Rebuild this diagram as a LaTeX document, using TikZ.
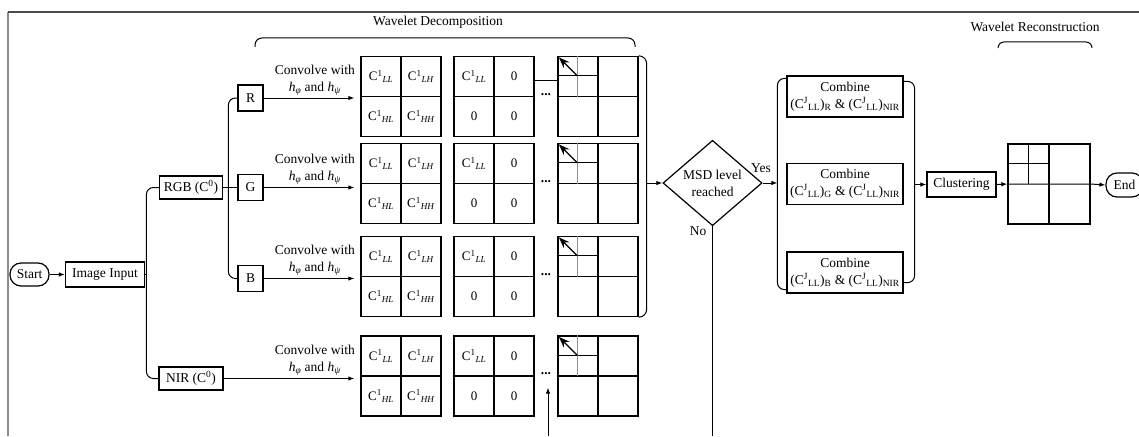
\documentclass[tikz,border=0pt]{standalone}
\usepackage{fontspec}
\setmainfont{Liberation Serif}
\usetikzlibrary{shapes.geometric,arrows.meta,calc}
\newcommand{\myfs}{\fontsize{13.5}{17}\selectfont}
\newcommand{\mysfs}{\fontsize{13}{15}\selectfont}
\newcommand{\coef}[2]{C\textsuperscript{#1}\textsubscript{\textit{#2}}}
\begin{document}
\begin{tikzpicture}[x=1pt,y=-1pt,line width=1pt,
  box/.style={draw,rectangle,inner sep=1pt,font=\myfs,line width=1.2pt},
  term/.style={draw,rectangle,rounded corners=11pt,inner sep=1pt,font=\myfs,line width=1.2pt},
  grid/.style={draw,rectangle,minimum width=80pt,minimum height=80pt,inner sep=0pt,line width=1.4pt},
  cell/.style={inner sep=0pt,font=\mysfs},
  lbl/.style={font=\myfs,align=center,inner sep=1pt},
  dots/.style={inner sep=0pt,font=\bfseries\myfs},
  arr/.style={-{Latex[length=6pt,width=4.5pt]}},
  bigarr/.style={-{Stealth[length=11pt,width=8pt]},line width=1.3pt}]
\useasboundingbox (0,0) rectangle (1139,436);
% frame
\draw[line width=1.5pt,black!45] (8,436) -- (8,12);
\draw[line width=1.2pt,black!70] (8,12) -- (1139,12);
% start
\node[term,minimum width=39pt,minimum height=23pt] (start) at (29.5,274.5) {Start};
\node[box,minimum width=79pt,minimum height=25pt] (img) at (105,274.5) {Image Input};
\draw[arr] (start) -- (img);
\node[box,minimum width=63pt,minimum height=23pt] (rgb) at (191,187.5) {RGB (C\textsuperscript{0})};
\node[box,minimum width=64pt,minimum height=23pt] (nir) at (191,378.5) {NIR (C\textsuperscript{0})};
\coordinate (bk) at ($(rgb.west)+(-12.5,0)$);
\draw[rounded corners=7pt] (rgb.west) -- (bk) |- (nir.west);
\draw (img.east) -- (bk |- img.east);
\node[box,minimum width=25pt,minimum height=26pt] (r) at (250.5,98) {R};
\node[box,minimum width=25pt,minimum height=26pt] (g) at (250.5,187.5) {G};
\node[box,minimum width=25pt,minimum height=26pt] (b) at (250.5,278.5) {B};
\draw[rounded corners=7pt] (r.west) -- ++(-9,0) |- (b.west);
\draw (rgb.east) -- (g.west);
% grids
\foreach \k/\yy in {r/96.5,g/183.5,b/276.5,n/376}{
  \node[grid] (a\k) at (401,\yy) {};
  \node[grid] (b\k) at (494,\yy) {};
  \node[grid] (c\k) at (598,\yy) {};
  \draw[line width=1.2pt] (a\k.north) -- (a\k.south) (a\k.west) -- (a\k.east);
  \draw[line width=1.2pt] (b\k.north) -- (b\k.south) (b\k.west) -- (b\k.east);
  \draw[line width=1.2pt] (c\k.north) -- (c\k.south) (c\k.west) -- (c\k.east);
  \draw[line width=1.1pt] ($(c\k.north west)+(0,20)$) -- ($(c\k.north)+(0,20)$);
  \draw[line width=1pt,black!45] ($(c\k.north west)+(20,0)$) -- ($(c\k.west)+(20,0)$);
  \draw[bigarr] ($(c\k.north west)+(20,20)$) -- ($(c\k.north west)+(1.5,1.5)$);
  \node[cell] (a\k1) at ($(a\k.center)+(-20,-20)$) {\coef{1}{LL}};
  \node[cell] (a\k2) at ($(a\k.center)+(20,-20)$) {\coef{1}{LH}};
  \node[cell] (a\k3) at ($(a\k.center)+(-20,20)$) {\coef{1}{HL}};
  \node[cell] (a\k4) at ($(a\k.center)+(20,20)$) {\coef{1}{HH}};
  \node[cell] (b\k1) at ($(b\k.center)+(-20,-20)$) {\coef{1}{LL}};
  \node[cell] (b\k2) at ($(b\k.center)+(20,-20)$) {0};
  \node[cell] (b\k3) at ($(b\k.center)+(-20,20)$) {0};
  \node[cell] (b\k4) at ($(b\k.center)+(20,20)$) {0};
  \node[dots] (d\k) at ($(b\k.center)+(52,-2)$) {...};
}
\draw[line width=0.8pt] ($(br.north east)+(0,25)$) -- ($(cr.north west)+(0,25)$);
% convolve arrows
\foreach \s/\k in {r/r,g/g,b/b,nir/n}{
  \draw[arr,shorten >=6pt] (\s.east) -- (\s.east -| a\k.west)
    node[lbl,at end,anchor=south east,xshift=-4pt,yshift=1pt] (cv\k) {Convolve with\\\textit{h}\textsubscript{\textit{φ}} and \textit{h}\textsubscript{\textit{ψ}}};
}
\coordinate (dotsin) at (548,436);
\draw[arr,shorten >=12pt] (dotsin) -- (dotsin |- dn.south);
% brace after grids
\coordinate (brm) at ($(cr.north east)+(8,0)$);
\draw[rounded corners=8pt] (cr.north east) -- (brm) |- (cb.south east);
\node[draw,diamond,minimum width=99pt,minimum height=74pt,inner sep=0pt,font=\myfs,align=center,line width=1.2pt] (msd) at (712.5,183) {MSD level\\reached};
\draw[arr] (brm |- msd.west) -- (msd.west);
\coordinate (noend) at (712.5,436);
\draw (msd.south) -- (noend);
\node[lbl] (no) at (698,231) {No};
\node[lbl] (yes) at (761,168) {Yes};
% combine
\node[box,minimum width=116pt,minimum height=41pt,align=center] (c1) at (845,96.5) {Combine\\(C\textsuperscript{J}\textsubscript{LL})\textsubscript{R} \& (C\textsuperscript{J}\textsubscript{LL})\textsubscript{NIR}};
\node[box,minimum width=116pt,minimum height=41pt,align=center] (c2) at (845,184) {Combine\\(C\textsuperscript{J}\textsubscript{LL})\textsubscript{G} \& (C\textsuperscript{J}\textsubscript{LL})\textsubscript{NIR}};
\node[box,minimum width=116pt,minimum height=41pt,align=center] (c3) at (845,272.5) {Combine\\(C\textsuperscript{J}\textsubscript{LL})\textsubscript{B} \& (C\textsuperscript{J}\textsubscript{LL})\textsubscript{NIR}};
\coordinate (lb) at ($(c1.north west)+(-9,3)$);
\draw[rounded corners=7pt] ($(c1.north west)+(0,3)$) -- (lb) |- ($(c3.south west)+(0,-4)$);
\draw[arr] (msd.east) -- (lb |- msd.east);
\coordinate (rb) at ($(c1.north east)+(11,6)$);
\draw[rounded corners=7pt] ($(c1.north east)+(0,6)$) -- (rb) |- ($(c3.south east)+(0,-11)$);
\node[box,minimum width=69pt,minimum height=25pt] (clu) at (961.5,184.5) {Clustering};
\draw[arr] (rb |- clu.west) -- (clu.west);
% reconstruction grid
\node[grid,minimum width=82pt] (rec) at (1049,184) {};
\draw[line width=1.2pt] (rec.north) -- (rec.south);
\draw[line width=1.1pt] ($(rec.north west)+(0,20)$) -- ($(rec.north)+(0,20)$);
\draw[line width=1.1pt] ($(rec.north west)+(21,0)$) -- ($(rec.west)+(21,0)$);
\draw[arr] (clu.east) -- (rec.west);
\node[term,minimum width=37pt,minimum height=24pt] (end) at (1124.5,185) {End};
\draw[arr] (rec.west) -- (rec.east) -- (end.west);
% top braces
\coordinate (wd1) at (255,47);
\coordinate (wd2) at (635,47);
\draw[rounded corners=7pt] (wd1) -- (wd1 |- 0,38) -- (wd2 |- 0,38) -- (wd2);
\node[lbl] (wdt) at (438,22) {Wavelet Decomposition};
\coordinate (wr1) at (998,48);
\coordinate (wr2) at (1092,48);
\draw[rounded corners=6pt] (wr1) -- (wr1 |- 0,42) -- (wr2 |- 0,42) -- (wr2);
\node[lbl] (wrt) at (1035,27) {Wavelet Reconstruction};
\end{tikzpicture}
\end{document}
